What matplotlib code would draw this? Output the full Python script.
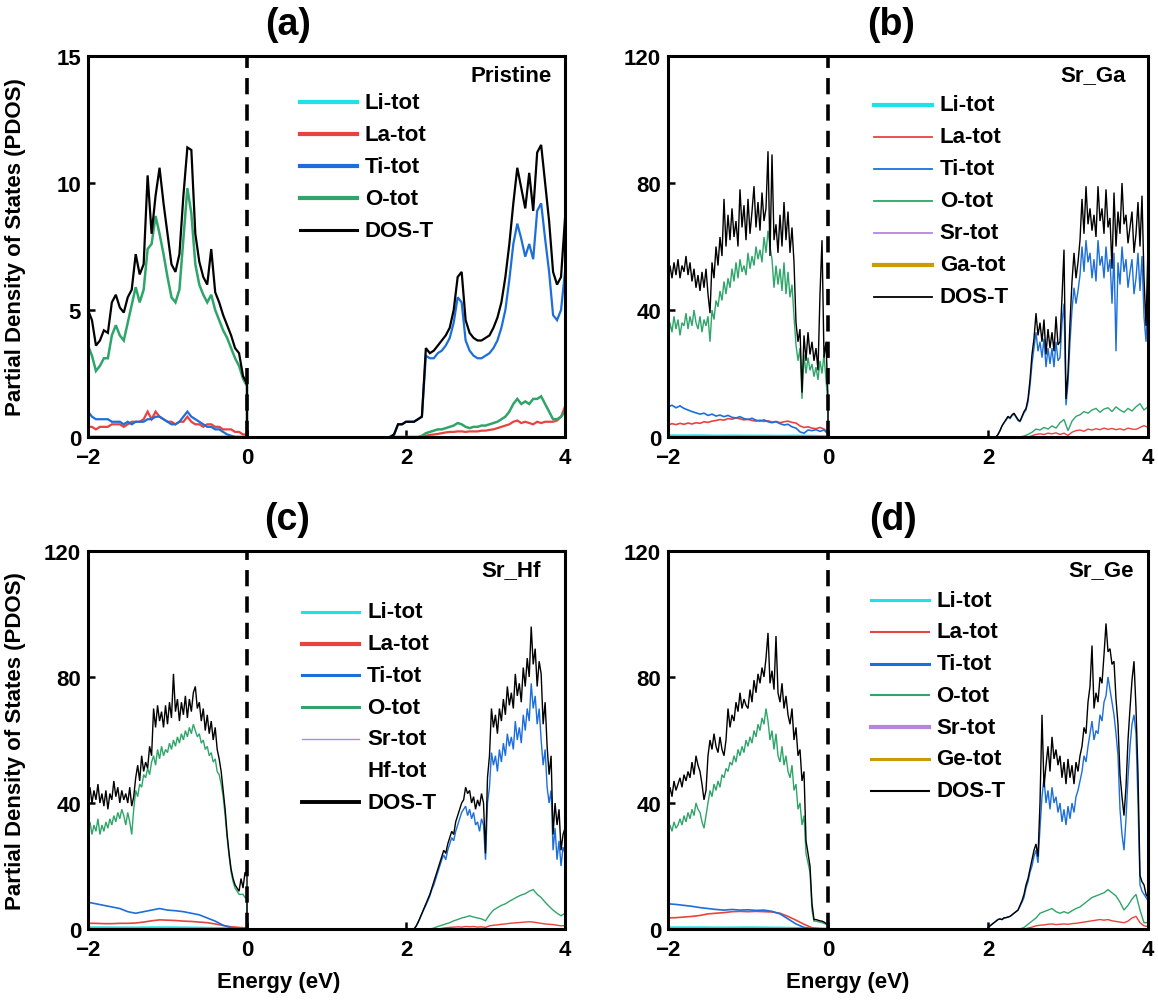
import numpy as np
import matplotlib
matplotlib.use('Agg')
import matplotlib.pyplot as plt

plt.rcParams['font.family'] = ['Liberation Sans', 'DejaVu Sans']
plt.rcParams['font.weight'] = 'bold'

# energy windows (eV) of the sampled curves
vb_span = (-2.0, 0.0)
a_cb_span = (1.8, 4.0)
cb_span = (2.0, 4.0)

# ---------------- (a) Pristine ----------------
a_dos_vb = [5.0, 4.6, 3.6, 3.8, 4.2, 4.1, 5.3, 5.6, 5.1, 4.9,
            5.5, 5.8, 7.2, 6.4, 6.8, 10.3, 8.0, 9.5, 10.6, 9.2,
            8.0, 6.8, 6.5, 7.2, 9.5, 11.4, 11.3, 8.0, 6.9, 6.3,
            6.0, 7.4, 5.7, 5.3, 4.8, 4.4, 4.0, 3.5, 3.3, 2.4, 2.1]
a_o_vb = [3.6, 3.2, 2.6, 2.8, 3.1, 3.1, 4.0, 4.4, 4.0, 3.8,
          4.5, 5.2, 5.9, 5.3, 5.8, 7.4, 7.6, 8.7, 8.0, 7.2,
          6.3, 5.5, 5.3, 5.8, 7.8, 9.8, 8.8, 6.8, 6.0, 5.6,
          5.3, 5.6, 5.0, 4.6, 4.2, 3.9, 3.5, 3.1, 2.8, 2.3, 2.0]
a_ti_vb = [1.0, 0.8, 0.7, 0.7, 0.7, 0.7, 0.6, 0.6, 0.6, 0.5,
           0.6, 0.5, 0.6, 0.6, 0.6, 0.7, 0.7, 0.8, 0.8, 0.7,
           0.6, 0.5, 0.5, 0.6, 0.8, 1.0, 0.8, 0.7, 0.6, 0.5,
           0.4, 0.4, 0.3, 0.3, 0.2, 0.1, 0.05, 0, 0, 0, 0]
a_la_vb = [0.4, 0.4, 0.3, 0.4, 0.4, 0.4, 0.5, 0.5, 0.5, 0.4,
           0.5, 0.6, 0.6, 0.6, 0.7, 1.0, 0.7, 1.0, 0.8, 0.7,
           0.6, 0.6, 0.5, 0.6, 0.6, 0.8, 0.6, 0.5, 0.5, 0.4,
           0.5, 0.5, 0.4, 0.4, 0.3, 0.3, 0.3, 0.2, 0.2, 0.1, 0.1]
a_li_vb = [0.02, 0.02, 0.02, 0.02, 0.02, 0.02, 0.02, 0.02, 0.02, 0.02, 0.01]
a_dos_cb = [0, 0.1, 0.5, 0.5, 0.6,
            0.6, 0.6, 0.7, 0.8, 3.5, 3.3, 3.4, 3.6, 3.8, 4.0,
            4.3, 5.0, 6.3, 6.5, 4.6, 4.1, 3.9, 3.8, 3.8, 3.9,
            4.0, 4.3, 4.7, 5.3, 6.3, 7.6, 9.2, 10.6, 9.8, 9.0,
            10.4, 8.9, 11.2, 11.5, 10.0, 8.5, 6.5, 6.0, 6.3, 8.6]
a_ti_cb = [0, 0.1, 0.5, 0.5, 0.6,
           0.6, 0.6, 0.7, 0.8, 3.2, 3.1, 3.1, 3.3, 3.4, 3.6,
           3.9, 4.5, 5.5, 5.3, 3.8, 3.4, 3.2, 3.1, 3.1, 3.2,
           3.3, 3.5, 3.8, 4.3, 5.0, 6.2, 7.6, 8.4, 7.8, 7.1,
           7.6, 7.0, 8.9, 9.2, 7.8, 6.5, 4.8, 4.6, 5.0, 6.5]
a_o_cb = [0, 0, 0, 0, 0, 0, 0, 0,
          0.05, 0.15, 0.2, 0.25, 0.3, 0.3, 0.35, 0.4, 0.45, 0.55,
          0.5, 0.4, 0.35, 0.4, 0.4, 0.45, 0.45, 0.5, 0.55, 0.6,
          0.7, 0.8, 1.0, 1.3, 1.5, 1.3, 1.4, 1.3, 1.5, 1.5,
          1.6, 1.3, 1.0, 0.7, 0.7, 0.8, 1.0]
a_la_cb = [0, 0, 0, 0, 0, 0, 0, 0,
           0.02, 0.05, 0.08, 0.1, 0.12, 0.15, 0.18, 0.2, 0.2, 0.22,
           0.22, 0.2, 0.22, 0.22, 0.22, 0.25, 0.25, 0.28, 0.3, 0.35,
           0.4, 0.45, 0.5, 0.6, 0.65, 0.55, 0.6, 0.55, 0.5, 0.6,
           0.55, 0.6, 0.6, 0.6, 0.65, 0.8, 1.2]

# ---------------- (b) Sr_Ga ----------------
b_dos_vb = [48, 54, 50, 55, 51, 56, 50, 54, 52, 57,
            51, 55, 49, 53, 47, 51, 46, 52, 47, 53,
            45, 39, 55, 50, 60, 54, 63, 57, 75, 60,
            70, 62, 72, 63, 68, 60, 78, 66, 73, 62,
            75, 64, 71, 79, 66, 74, 65, 77, 68, 72,
            90, 57, 89, 62, 67, 58, 70, 60, 74, 62,
            71, 58, 66, 55, 36, 30, 34, 14, 32, 24,
            33, 26, 30, 24, 28, 21, 45, 62, 25, 30, 12]
b_o_vb = [28, 36, 33, 38, 34, 37, 32, 36, 35, 39,
          34, 38, 35, 40, 36, 34, 38, 33, 37, 35,
          38, 30, 40, 37, 43, 41, 46, 43, 49, 45,
          50, 47, 53, 49, 55, 50, 56, 52, 54, 51,
          58, 53, 57, 54, 60, 56, 59, 55, 63, 58,
          65, 60, 56, 47, 54, 48, 53, 46, 55, 45,
          52, 44, 48, 38, 29, 24, 28, 12, 26, 20,
          25, 21, 23, 19, 22, 18, 24, 20, 26, 18, 10]
b_ti_vb = [9.5, 10, 9.2, 9.8, 9.0, 8.5, 8.0, 7.6, 7.2, 7.5,
           6.8, 7.2, 6.6, 6.9, 6.4, 6.8, 6.2, 6.0, 6.4, 5.8,
           5.5, 5.9, 5.3, 5.0, 5.4, 4.8, 4.5, 4.8, 4.2, 3.8,
           4.0, 3.2, 2.8, 1.6, 1.2, 2.2, 2.0, 2.3, 1.8, 2.2, 1.0]
b_la_vb = [3.8, 4.2, 3.9, 4.3, 4.0, 4.4, 4.1, 4.5, 4.3, 4.8,
           4.6, 5.0, 5.2, 5.5, 5.3, 5.8, 5.6, 6.0, 5.7, 5.4,
           5.6, 5.2, 5.0, 5.3, 4.9, 5.1, 4.7, 4.9, 4.5, 4.8,
           5.0, 4.6, 4.4, 3.5, 3.0, 3.2, 2.8, 2.6, 3.0, 2.5, 1.5]
b_li_vb = [0.6, 0.55, 0.6, 0.5, 0.55, 0.5, 0.5, 0.45, 0.5, 0.45, 0.3]
b_sr_vb = [0.2, 0.2, 0.2, 0.2, 0.2, 0.2, 0.2, 0.2, 0.2, 0.15, 0.1]
b_ga_vb = [0.1, 0.1, 0.1, 0.1, 0.1, 0.1, 0.1, 0.1, 0.1, 0.1, 0.1]
b_dos_cb = [0, 0, 0, 0, 0, 0.8, 2.0, 3.5, 4.5, 5.5,
            6.5, 6.0, 7.0, 7.5, 6.5, 5.5, 5.0, 6.5, 8.0, 9.0,
            12, 18, 26, 31, 39, 32, 36, 30, 37, 26,
            34, 28, 33, 27, 38, 29, 30, 44, 59, 12,
            20, 36, 49, 58, 50, 55, 62, 75, 64, 79,
            67, 72, 65, 70, 63, 79, 68, 72, 64, 78,
            66, 69, 53, 77, 60, 71, 64, 80, 67, 70,
            61, 66, 71, 58, 64, 74, 60, 76, 50, 35, 60]
b_ti_cb = [0, 0, 0, 0, 0, 0.8, 2.0, 3.5, 4.5, 5.3,
           6.2, 5.8, 6.7, 7.2, 6.2, 5.2, 4.8, 6.2, 7.6, 8.5,
           11, 16, 23, 28, 33, 27, 30, 25, 31, 22,
           28, 23, 28, 22, 30, 24, 25, 36, 42, 10,
           17, 30, 40, 47, 42, 46, 51, 60, 52, 62,
           55, 58, 50, 56, 49, 62, 54, 57, 50, 60,
           52, 56, 42, 58, 27, 55, 48, 60, 52, 56,
           47, 52, 56, 45, 50, 58, 46, 57, 38, 30, 45]
b_o_cb = [0, 0, 0, 0, 0, 0, 0, 0, 0,
          0.3, 0.8, 1.5, 2.5, 2.2, 3.0, 2.5, 3.5, 2.8, 4.5, 5.5, 2.0,
          5.0, 6.5, 7.0, 8.0, 7.5, 8.5, 9.0, 7.8, 8.8, 9.2, 8.0,
          9.5, 8.5, 7.8, 9.0, 8.2, 9.5, 10.5, 8.5, 9.5]
b_la_cb = [0, 0, 0, 0, 0, 0, 0, 0, 0, 0, 0,
           0.4, 0.8, 1.0, 0.8, 1.2, 1.0, 1.3, 0.8, 1.2, 0.5,
           1.5, 2.0, 2.2, 1.8, 2.5, 2.2, 2.6, 2.3, 2.8, 2.4,
           2.7, 2.3, 2.6, 2.2, 2.8, 2.5, 2.4, 3.0, 3.6, 3.0]

# ---------------- (c) Sr_Hf ----------------
c_dos_vb = [42, 45, 40, 44, 41, 46, 40, 43, 39, 44,
            38, 43, 41, 47, 42, 45, 40, 44, 41, 43,
            40, 45, 39, 42, 48, 52, 47, 55, 50, 53,
            51, 58, 55, 70, 64, 71, 66, 69, 64, 71,
            65, 72, 67, 81, 69, 73, 66, 72, 68, 74,
            67, 73, 69, 75, 77, 70, 72, 66, 70, 63,
            68, 62, 66, 60, 64, 57, 54, 50, 44, 38,
            30, 24, 19, 16, 14, 13, 12, 16, 13, 18, 17]
c_o_vb = [31, 34, 30, 33, 31, 35, 30, 33, 31, 34,
          32, 35, 33, 36, 34, 37, 35, 38, 36, 33,
          37, 34, 30, 38, 44, 42, 46, 45, 49, 48,
          51, 49, 53, 55, 52, 57, 54, 58, 55, 57,
          56, 59, 57, 60, 58, 61, 59, 62, 60, 63,
          61, 64, 62, 65, 63, 61, 62, 59, 60, 57,
          58, 55, 56, 53, 54, 50, 49, 46, 42, 36,
          29, 23, 18, 15, 13, 12, 11, 11, 11, 10, 10]
c_ti_vb = [8.5, 8.0, 7.5, 7.0, 6.5, 5.5, 5.0, 5.5, 6.0, 6.5,
           6.0, 5.8, 5.5, 5.0, 4.5, 3.5, 2.5, 1.2, 0.4, 0.1, 0]
c_la_vb = [1.8, 1.8, 1.7, 1.7, 1.8, 1.8, 1.9, 2.2, 2.6, 2.9,
           2.8, 2.7, 2.5, 2.4, 2.2, 2.0, 1.6, 1.1, 0.7, 0.5, 0.3]
c_li_vb = [0.6, 0.6, 0.55, 0.55, 0.6, 0.6, 0.55, 0.5, 0.4, 0.3, 0.2]
c_sr_vb = [0.2, 0.2, 0.2, 0.2, 0.2, 0.2, 0.2, 0.2, 0.15, 0.1, 0.1]
c_hf_vb = [0.1, 0.1, 0.1, 0.1, 0.1, 0.1, 0.1, 0.1, 0.1, 0.1, 0.1]
c_dos_cb = [0, 0, 0, 0, 0, 0.8, 2, 3.5, 5, 6.5,
            8, 9.5, 11, 13, 15, 17, 19, 21, 23, 25,
            24, 27, 29, 31, 30, 34, 36, 38, 40, 41,
            45, 43, 44, 40, 42, 38, 41, 39, 43, 40,
            24, 48, 55, 70, 64, 68, 62, 70, 66, 73,
            68, 77, 71, 75, 70, 81, 74, 78, 72, 83,
            77, 86, 80, 96, 84, 89, 77, 85, 81, 65,
            72, 58, 49, 55, 30, 40, 33, 38, 25, 30, 32]
c_ti_cb = [0, 0, 0, 0, 0, 0.8, 2, 3.3, 4.8, 6.2,
           7.5, 9, 10.5, 12.5, 14, 16, 18, 20, 22, 23.5,
           22, 25, 27, 29, 28, 31, 33, 35, 37, 38,
           39, 36, 38, 35, 37, 33, 34, 31, 35, 33,
           22, 40, 45, 56, 52, 55, 50, 57, 53, 59,
           55, 62, 58, 61, 57, 66, 60, 64, 59, 68,
           63, 70, 66, 78, 70, 74, 65, 70, 60, 52,
           57, 45, 40, 44, 25, 32, 22, 28, 20, 26, 24]
c_o_cb = [0, 0, 0, 0, 0, 0, 0,
          0.3, 0.8, 1.2, 1.6, 2.0, 2.6, 3.0, 3.5, 3.8, 4.2, 3.8,
          3.5, 3.2, 2.6, 4.5, 6.0, 6.8, 7.5, 8.0, 8.8, 9.5,
          10.2, 10.8, 11.2, 12.0, 12.5, 11.0, 10.0, 8.5, 7.2, 6.0,
          5.0, 4.2, 5.0]
c_la_cb = [0, 0, 0, 0, 0, 0, 0, 0, 0,
           0.2, 0.4, 0.5, 0.6, 0.7, 0.6, 0.8, 0.7, 0.8, 0.6, 0.7, 0.5,
           1.0, 1.2, 1.3, 1.5, 1.6, 1.8, 1.9, 2.0, 2.1, 2.2, 2.3,
           2.2, 2.0, 1.8, 1.6, 1.5, 1.4, 1.2, 1.0, 1.1]

# ---------------- (d) Sr_Ge ----------------
d_dos_vb = [40, 45, 42, 47, 44, 46, 48, 45, 49, 47,
            50, 48, 53, 49, 55, 52, 50, 46, 41, 44,
            55, 60, 57, 62, 58, 56, 61, 57, 55, 60,
            70, 64, 68, 66, 72, 69, 75, 70, 73, 71,
            70, 76, 72, 79, 75, 81, 78, 83, 80, 86,
            94, 78, 82, 76, 93, 75, 72, 78, 70, 74,
            68, 65, 70, 60, 64, 55, 57, 47, 50, 28,
            24, 20, 8, 3, 3, 2.8, 2.6, 2.5, 2.2, 1.8, 1.5]
d_o_vb = [30, 33, 31, 34, 32, 33, 35, 33, 36, 34,
          37, 35, 38, 36, 40, 38, 37, 34, 32, 36,
          40, 44, 42, 46, 44, 47, 45, 49, 48, 51,
          50, 53, 52, 55, 53, 57, 55, 58, 56, 60,
          58, 61, 59, 63, 61, 65, 63, 67, 65, 70,
          66, 60, 63, 57, 62, 55, 53, 58, 52, 55,
          50, 48, 52, 44, 46, 38, 40, 33, 36, 24,
          21, 18, 6, 2.5, 2.5, 2.3, 2.2, 2.0, 1.8, 1.5, 1.2]
d_ti_vb = [8.0, 7.8, 7.5, 7.2, 6.8, 6.5, 6.2, 6.0, 6.2, 6.0,
           6.1, 5.9, 6.0, 5.6, 4.8, 3.2, 1.6, 0.5, 0.1, 0, 0]
d_la_vb = [3.5, 3.6, 3.8, 4.0, 4.3, 4.8, 5.0, 5.2, 5.5, 5.6,
           5.5, 5.6, 5.5, 5.4, 5.0, 4.0, 2.8, 1.5, 0.4, 0.1, 0]
d_li_vb = [0.6, 0.6, 0.6, 0.55, 0.55, 0.6, 0.55, 0.5, 0.4, 0.3, 0.2]
d_sr_vb = [0.2, 0.2, 0.2, 0.2, 0.2, 0.2, 0.2, 0.2, 0.15, 0.1, 0.1]
d_ge_vb = [0.1, 0.1, 0.1, 0.1, 0.1, 0.1, 0.1, 0.1, 0.1, 0.1, 0.1]
d_dos_cb = [0.5, 1.0, 1.5, 2.0, 2.5, 3.0, 3.2, 3.0, 3.5, 3.6,
            3.8, 4.0, 4.5, 5.0, 5.5, 6.0, 7.5, 9, 11, 14,
            16, 19, 22, 25, 27, 23, 40, 68, 45, 52,
            58, 50, 61, 54, 57, 52, 55, 48, 53, 46,
            54, 48, 52, 46, 53, 50, 55, 58, 64, 62,
            72, 77, 90, 70, 75, 72, 80, 78, 87, 97,
            88, 89, 84, 85, 73, 65, 49, 42, 36, 45,
            60, 70, 79, 85, 70, 49, 17, 15, 14, 11, 10]
d_ti_cb = [0.5, 1.0, 1.5, 2.0, 2.5, 3.0, 3.2, 3.0, 3.5, 3.6,
           3.8, 4.0, 4.5, 5.0, 5.5, 6.0, 7.2, 8.5, 10, 13,
           15, 18, 20, 23, 25, 21, 32, 42, 48, 40,
           44, 38, 45, 40, 42, 37, 40, 34, 38, 33,
           39, 35, 40, 37, 42, 44, 47, 50, 55, 53,
           58, 62, 66, 60, 63, 62, 68, 66, 72, 74,
           80, 76, 72, 68, 62, 55, 38, 30, 25, 35,
           48, 58, 65, 68, 62, 40, 14, 12, 11, 10, 9]
d_o_cb = [0, 0, 0, 0, 0, 0, 0, 0, 0,
          0.5, 1.5, 2.5, 3.5, 5.0, 5.5, 6.0, 6.5, 5.5, 5.0, 5.5, 5.0,
          5.8, 6.5, 7.0, 8.0, 9.0, 10.0, 10.5, 11.0, 11.5, 12.5, 11.5,
          10.5, 8.5, 6.0, 7.5, 9.5, 11.0, 6.0, 2.0, 2.0]
d_la_cb = [0, 0, 0, 0, 0, 0, 0, 0, 0, 0,
           0.3, 0.6, 1.0, 1.2, 1.3, 1.5, 1.6, 1.4, 1.5, 1.6, 1.5,
           1.7, 1.8, 2.0, 2.2, 2.4, 2.6, 2.8, 3.0, 2.8, 3.0,
           2.6, 2.4, 2.2, 2.0, 2.5, 3.5, 4.0, 2.0, 1.0, 0.8]

colors = {'Li': '#1de2e8', 'La': '#e8433e', 'Ti': '#1c6fdb', 'O': '#2fa56a',
          'Sr': '#b585e0', 'Ga': '#c89b08', 'Ge': '#c89b08', 'Hf': 'white',
          'DOS': 'black'}

fig = plt.figure(figsize=(11.58, 10.03), dpi=100)
W, H = 1158.0, 1003.0


def px_axes(left, right, top, bottom):
    return fig.add_axes([left / W, 1 - bottom / H, (right - left) / W, (bottom - top) / H])


def curve(ax, span, vals, color, lw, drop=False):
    x = np.linspace(span[0], span[1], len(vals))
    y = np.asarray(vals, dtype=float)
    if drop:
        x = np.append(x, span[1])
        y = np.append(y, 0.0)
    ax.plot(x, y, color=color, lw=lw, solid_joinstyle='miter')


def style(ax, ymax, yticks, tag, name, tag_x, name_x):
    ax.set_xlim(-2, 4)
    ax.set_ylim(0, ymax)
    ax.set_xticks([-2, 0, 2, 4])
    ax.set_xticklabels(['\u22122', '0', '2', '4'])
    ax.set_yticks(yticks)
    ax.tick_params(direction='in', length=5, width=1.8, labelsize=16)
    ax.tick_params(axis='x', pad=7)
    ax.tick_params(axis='y', pad=5)
    for lab in ax.get_xticklabels() + ax.get_yticklabels():
        lab.set_fontweight('bold')
    for s in ax.spines.values():
        s.set_linewidth(2.2)
    ax.axvline(0, color='black', lw=2.6, linestyle=(0, (4.5, 2.8)))
    ax.text(tag_x, 1.0 + 32.0 / 380, tag, transform=ax.transAxes, ha='center',
            va='center', fontsize=27, fontweight='bold')
    ax.text(name_x, 0.95, name, transform=ax.transAxes, ha='right', va='center',
            fontsize=16, fontweight='bold')


def legend(ax, entries, x0, y0, dy=0.084, length=0.12):
    for i, (label, color, lw) in enumerate(entries):
        y = y0 - i * dy
        ax.plot([x0, x0 + length], [y, y], color=color, lw=lw, transform=ax.transAxes)
        ax.text(x0 + length + 0.016, y, label, transform=ax.transAxes, ha='left',
                va='center', fontsize=16, fontweight='bold')


# ---- (a)
ax = px_axes(88, 565, 57, 438)
curve(ax, vb_span, a_li_vb, colors['Li'], 1.6, True)
curve(ax, vb_span, a_la_vb, colors['La'], 1.6, True)
curve(ax, vb_span, a_ti_vb, colors['Ti'], 1.6, True)
curve(ax, vb_span, a_o_vb, colors['O'], 1.8, True)
curve(ax, vb_span, a_dos_vb, colors['DOS'], 1.6, True)
curve(ax, a_cb_span, a_la_cb, colors['La'], 1.6)
curve(ax, a_cb_span, a_o_cb, colors['O'], 1.8)
curve(ax, a_cb_span, a_ti_cb, colors['Ti'], 1.6)
curve(ax, a_cb_span, a_dos_cb, colors['DOS'], 1.6)
style(ax, 15, [0, 5, 10, 15], '(a)', 'Pristine', 0.42, 0.973)
legend(ax, [('Li-tot', colors['Li'], 3), ('La-tot', colors['La'], 3),
            ('Ti-tot', colors['Ti'], 3), ('O-tot', colors['O'], 3),
            ('DOS-T', colors['DOS'], 2.2)], 0.444, 0.878)
ax.text(-0.153, 0.5, 'Partial Density of States (PDOS)', transform=ax.transAxes,
        rotation=90, ha='center', va='center', fontsize=16, fontweight='bold')

# ---- (b)
ax = px_axes(668, 1148, 57, 438)
curve(ax, vb_span, b_li_vb, colors['Li'], 1.2, True)
curve(ax, vb_span, b_sr_vb, colors['Sr'], 1.0, True)
curve(ax, vb_span, b_ga_vb, colors['Ga'], 1.0, True)
curve(ax, vb_span, b_la_vb, colors['La'], 1.2, True)
curve(ax, vb_span, b_ti_vb, colors['Ti'], 1.2, True)
curve(ax, vb_span, b_o_vb, colors['O'], 1.0, True)
curve(ax, vb_span, b_dos_vb, colors['DOS'], 1.0, True)
curve(ax, cb_span, b_la_cb, colors['La'], 1.0)
curve(ax, cb_span, b_o_cb, colors['O'], 1.0)
curve(ax, cb_span, b_ti_cb, colors['Ti'], 1.0)
curve(ax, cb_span, b_dos_cb, colors['DOS'], 1.0)
style(ax, 120, [0, 40, 80, 120], '(b)', 'Sr_Ga', 0.465, 0.954)
legend(ax, [('Li-tot', colors['Li'], 3), ('La-tot', colors['La'], 1.3),
            ('Ti-tot', colors['Ti'], 1.3), ('O-tot', colors['O'], 1.3),
            ('Sr-tot', colors['Sr'], 1.3), ('Ga-tot', colors['Ga'], 3),
            ('DOS-T', colors['DOS'], 1.3)], 0.43, 0.872)

# ---- (c)
ax = px_axes(88, 565, 552, 930)
curve(ax, vb_span, c_li_vb, colors['Li'], 1.2, True)
curve(ax, vb_span, c_sr_vb, colors['Sr'], 1.0, True)
curve(ax, vb_span, c_hf_vb, colors['Hf'], 1.0, True)
curve(ax, vb_span, c_la_vb, colors['La'], 1.2, True)
curve(ax, vb_span, c_ti_vb, colors['Ti'], 1.2, True)
curve(ax, vb_span, c_o_vb, colors['O'], 1.0, True)
curve(ax, vb_span, c_dos_vb, colors['DOS'], 1.0, True)
curve(ax, cb_span, c_la_cb, colors['La'], 1.0)
curve(ax, cb_span, c_o_cb, colors['O'], 1.0)
curve(ax, cb_span, c_ti_cb, colors['Ti'], 1.0)
curve(ax, cb_span, c_dos_cb, colors['DOS'], 1.0)
style(ax, 120, [0, 40, 80, 120], '(c)', 'Sr_Hf', 0.417, 0.95)
legend(ax, [('Li-tot', colors['Li'], 2.2), ('La-tot', colors['La'], 3),
            ('Ti-tot', colors['Ti'], 2.2), ('O-tot', colors['O'], 2.2),
            ('Sr-tot', colors['Sr'], 1.0), ('Hf-tot', 'none', 1.0),
            ('DOS-T', colors['DOS'], 2.8)], 0.449, 0.839)
ax.text(-0.153, 0.5, 'Partial Density of States (PDOS)', transform=ax.transAxes,
        rotation=90, ha='center', va='center', fontsize=16, fontweight='bold')
ax.text(0.40, -0.138, 'Energy (eV)', transform=ax.transAxes, ha='center',
        va='center', fontsize=16, fontweight='bold')

# ---- (d)
ax = px_axes(668, 1148, 552, 930)
curve(ax, vb_span, d_li_vb, colors['Li'], 1.2, True)
curve(ax, vb_span, d_sr_vb, colors['Sr'], 1.0, True)
curve(ax, vb_span, d_ge_vb, colors['Ge'], 1.0, True)
curve(ax, vb_span, d_la_vb, colors['La'], 1.2, True)
curve(ax, vb_span, d_ti_vb, colors['Ti'], 1.2, True)
curve(ax, vb_span, d_o_vb, colors['O'], 1.0, True)
curve(ax, vb_span, d_dos_vb, colors['DOS'], 1.0, True)
curve(ax, cb_span, d_la_cb, colors['La'], 1.0)
curve(ax, cb_span, d_o_cb, colors['O'], 1.0)
curve(ax, cb_span, d_ti_cb, colors['Ti'], 1.0)
curve(ax, cb_span, d_dos_cb, colors['DOS'], 1.0)
style(ax, 120, [0, 40, 80, 120], '(d)', 'Sr_Ge', 0.469, 0.971)
legend(ax, [('Li-tot', colors['Li'], 2.2), ('La-tot', colors['La'], 1.5),
            ('Ti-tot', colors['Ti'], 2.2), ('O-tot', colors['O'], 1.5),
            ('Sr-tot', colors['Sr'], 3), ('Ge-tot', colors['Ge'], 2.2),
            ('DOS-T', colors['DOS'], 1.5)], 0.423, 0.87)
ax.text(0.375, -0.138, 'Energy (eV)', transform=ax.transAxes, ha='center',
        va='center', fontsize=16, fontweight='bold')

fig.savefig('out.png', dpi=100)
